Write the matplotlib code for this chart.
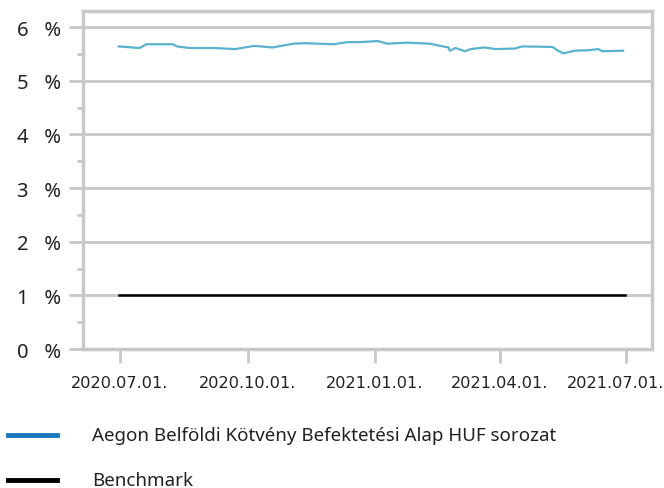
import numpy as np
import pandas as pd
import matplotlib
matplotlib.use("Agg")
import matplotlib.pyplot as plt
import matplotlib.dates as mdates
import matplotlib.transforms as mtrans
from matplotlib.lines import Line2D

# =========================
# data
# =========================
fund_dates = [
    "2020-06-30", "2020-07-15", "2020-07-20", "2020-08-08", "2020-08-11",
    "2020-08-20", "2020-09-07", "2020-09-22", "2020-10-06", "2020-10-19",
    "2020-11-03", "2020-11-11", "2020-12-02", "2020-12-12", "2020-12-21",
    "2021-01-03", "2021-01-10", "2021-01-24", "2021-02-10", "2021-02-15",
    "2021-02-23", "2021-02-24", "2021-02-28", "2021-03-07", "2021-03-11",
    "2021-03-21", "2021-03-29", "2021-04-12", "2021-04-17", "2021-05-09",
    "2021-05-13", "2021-05-17", "2021-05-25", "2021-06-05", "2021-06-11",
    "2021-06-14", "2021-06-29",
]
fund_values = [
    5.64, 5.61, 5.68, 5.68, 5.64,
    5.61, 5.61, 5.59, 5.65, 5.62,
    5.69, 5.70, 5.68, 5.72, 5.72,
    5.74, 5.69, 5.71, 5.69, 5.66,
    5.62, 5.56, 5.61, 5.55, 5.59,
    5.62, 5.59, 5.60, 5.64, 5.63,
    5.56, 5.51, 5.56, 5.57, 5.59,
    5.55, 5.56,
]
bench_dates = ["2020-06-30", "2020-10-01", "2021-01-01", "2021-04-01", "2021-06-30"]
bench_values = [1.0, 1.0, 1.0, 1.0, 1.0]

x_ticks = ["2020-07-01", "2020-10-01", "2021-01-01", "2021-04-01", "2021-07-01"]
x_tick_labels = ["2020.07.01.", "2020.10.01.", "2021.01.01.", "2021.04.01.", "2021.07.01."]
y_ticks = [0, 1, 2, 3, 4, 5, 6]

legend_labels = ["Aegon Belföldi Kötvény Befektetési Alap HUF sorozat", "Benchmark"]

# =========================
# plot
# =========================
GREY = "#c8c8c8"
W, H = 664, 489
fig = plt.figure(figsize=(W / 100, H / 100), dpi=100)
ax = fig.add_axes([83 / W, (H - 350) / H, (652 - 83) / W, (350 - 12) / H])

ax.plot(pd.to_datetime(fund_dates), fund_values, color="#5ab2cf", lw=1.6)
ax.plot(pd.to_datetime(bench_dates), bench_values, color="black", lw=1.8)

x0 = pd.Timestamp("2020-07-01")
ax.set_xlim(mdates.date2num(x0) - 26.7, mdates.date2num(x0) + 383.8)
ax.set_ylim(0, 6.3)

ax.set_xticks(pd.to_datetime(x_ticks))
ax.set_xticklabels(x_tick_labels, fontsize=11.6, color="#222222")
ax.set_yticks(y_ticks)
ax.set_yticklabels([f"{v}   %" for v in y_ticks], fontsize=14.5, color="#222222",
                   family="Noto Sans")
ax.set_yticks(np.arange(0.5, 6.3, 1.0), minor=True)

ax.tick_params(axis="both", which="major", color=GREY, width=2, length=10)
ax.tick_params(axis="y", which="major", pad=6)
ax.tick_params(axis="x", which="major", pad=9)
ax.tick_params(axis="y", which="minor", color=GREY, width=2, length=4)

# last date label is pushed left a bit, like in the original
last = ax.get_xticklabels()[-1]
last.set_transform(last.get_transform()
                   + mtrans.ScaledTranslation(-10 / 100, 0, fig.dpi_scale_trans))

ax.grid(axis="y", color=GREY, lw=2)
ax.set_axisbelow(True)
for side in ax.spines.values():
    side.set_color(GREY)
    side.set_linewidth(2.5)

# legend, drawn by hand below the plot
for i, (lab, col) in enumerate(zip(legend_labels, ["#1a78bd", "black"])):
    yy = (H - 436 - 45 * i) / H
    fig.add_artist(Line2D([8 / W, 57 / W], [yy, yy], color=col, lw=3.5))
    fig.text(92 / W, yy, lab, fontsize=13.5, family="Noto Sans",
             va="center", color="#222222")

plt.savefig("out.png", dpi=100)
